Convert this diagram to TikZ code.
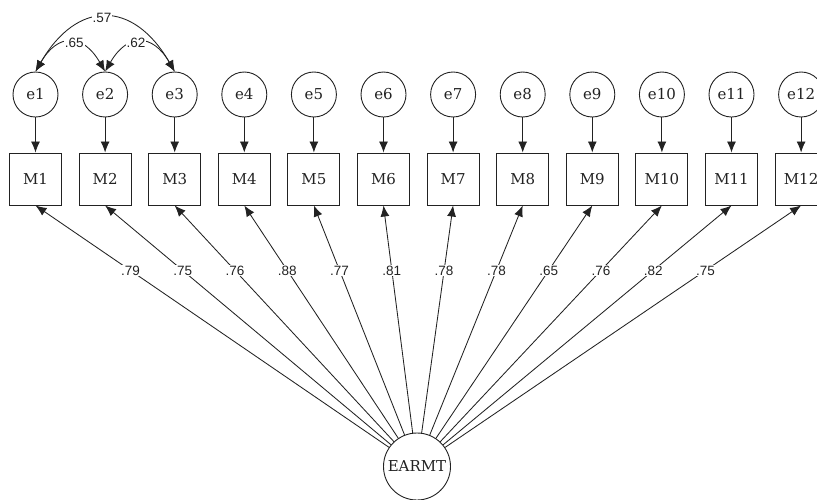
\documentclass[tikz,border=0pt]{standalone}
\usepackage{fontspec}
\setmainfont{DejaVu Serif}
\newfontfamily\labfont{Liberation Sans}
\usetikzlibrary{arrows.meta,calc}
\definecolor{ink}{HTML}{222222}
\begin{document}
\begin{tikzpicture}[x=1pt,y=1pt,
  obs/.style={draw=ink, line width=1pt, minimum size=52pt, inner sep=0pt, text=ink, font=\fontsize{15}{15}\selectfont},
  err/.style={circle, draw=ink, line width=0.9pt, minimum size=45pt, inner sep=0pt, text=ink, font=\fontsize{15}{15}\selectfont},
  lat/.style={circle, draw=ink, line width=0.9pt, minimum size=67pt, inner sep=0pt, text=ink, font=\fontsize{15}{15}\selectfont},
  arr/.style={-{Latex[length=11pt,width=9pt]}, line width=0.85pt, draw=ink},
  darr/.style={{Latex[length=11pt,width=9pt]}-{Latex[length=11pt,width=9pt]}, line width=0.85pt, draw=ink},
  lab/.style={fill=white, inner sep=1pt, text=ink, font=\labfont\fontsize{13.5}{13.5}\selectfont}
]
\useasboundingbox (0,0) rectangle (817,-499);
\clip (0,0) rectangle (817,-499);
\foreach \i in {1,...,12} {
  \pgfmathsetmacro\xx{35.5+69.6*(\i-1)}
  \node[obs] (M\i) at (\xx,-179) {M\i};
  \node[err] (e\i) at (\xx,-94.5) {e\i};
  \draw[arr] (e\i) -- (M\i);
}
\node[lat] (E) at (417,-466.5) {EARMT};
\foreach \i/\v in {1/.79,2/.75,3/.76,4/.88,5/.77,6/.81,7/.78,8/.78,9/.65,10/.76,11/.82,12/.75} {
  \draw[arr] (E) -- (M\i.south);
}
\foreach \i/\v in {1/.79,2/.75,3/.76,4/.88,5/.77,6/.81,7/.78,8/.78,9/.65,10/.76,11/.82,12/.75} {
  \node[lab] (L\i) at ($(E.center)!0.751!(M\i.south)$) {\v};
}
\draw[darr] (e1.north) to[out=60,in=120,looseness=1.53] node[lab, pos=0.5, xshift=-3pt] (c13) {.57} (e3.north);
\draw[darr] (e1.north) to[out=60,in=120,looseness=1.64] node[lab, pos=0.5, xshift=4pt] (c12) {.65} (e2.north);
\draw[darr] (e2.north) to[out=60,in=120,looseness=1.64] node[lab, pos=0.5, xshift=-4pt] (c23) {.62} (e3.north);
\end{tikzpicture}
\end{document}
